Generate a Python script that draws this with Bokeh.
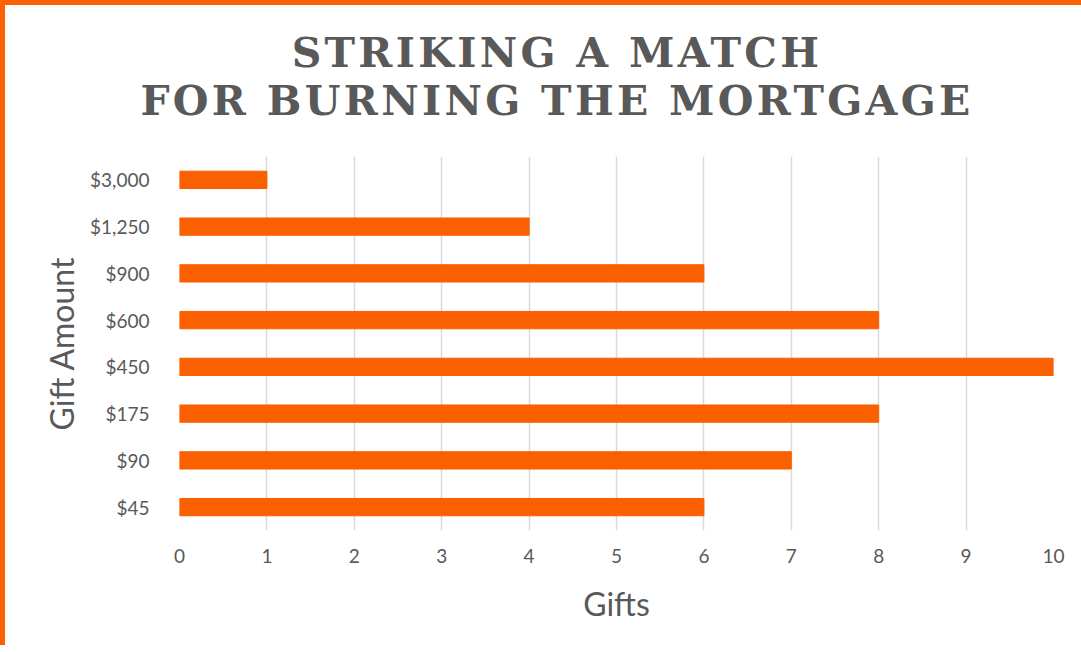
from bokeh.plotting import figure
from bokeh.models import Range1d, FixedTicker, Div
from bokeh.layouts import column
from bokeh.embed import file_html
from bokeh.resources import INLINE

categories = ["$45", "$90", "$175", "$450", "$600", "$900", "$1,250", "$3,000"]
gifts = [6, 7, 8, 10, 8, 6, 4, 1]
x_ticks = [0, 1, 2, 3, 4, 5, 6, 7, 8, 9, 10]
title_lines = ["STRIKING A MATCH", "FOR BURNING THE MORTGAGE"]

ORANGE = "#FA5F00"
BORDER = "#FC6204"
GREY = "#595959"

title_html = (
    "<div style=\"box-sizing:border-box;width:1076px;text-align:center;padding-top:24px;padding-left:28px;"
    "font-family:'DejaVu Serif';font-weight:bold;font-size:41px;line-height:48px;"
    f"letter-spacing:3.3px;color:{GREY};\">" + "<br>".join(title_lines) + "</div>"
)
title_div = Div(text=title_html, width=1076, height=146, margin=0)

p = figure(width=1076, height=494, y_range=categories, x_range=Range1d(0, 10),
           output_backend="svg", toolbar_location=None, margin=0,
           min_border_left=174, min_border_right=28, min_border_top=5, min_border_bottom=115)

p.hbar(y=categories, right=gifts, left=0, height=0.37, color=ORANGE)

p.outline_line_color = None
p.xgrid.grid_line_color = "#D9D9D9"
p.xgrid.grid_line_width = 1.5
p.ygrid.grid_line_color = None
p.xaxis.ticker = FixedTicker(ticks=x_ticks)

for ax in (p.xaxis, p.yaxis):
    ax.axis_line_color = None
    ax.major_tick_line_color = None
    ax.minor_tick_line_color = None
    ax.major_label_text_font = "Lato"
    ax.major_label_text_font_size = "19px"
    ax.major_label_text_color = GREY
    ax.axis_label_text_font = "Lato"
    ax.axis_label_text_font_size = "32px"
    ax.axis_label_text_font_style = "normal"
    ax.axis_label_text_color = GREY

p.xaxis.axis_label = "Gifts"
p.yaxis.axis_label = "Gift Amount"
p.xaxis.major_label_standoff = 12
p.yaxis.major_label_standoff = 24
p.xaxis.axis_label_standoff = 18
p.yaxis.axis_label_standoff = 6

layout = column(title_div, p, spacing=0)
layout.styles = {"border-top": f"5px solid {BORDER}", "border-left": f"5px solid {BORDER}"}

open("out.html", "w").write(file_html(layout, INLINE))
